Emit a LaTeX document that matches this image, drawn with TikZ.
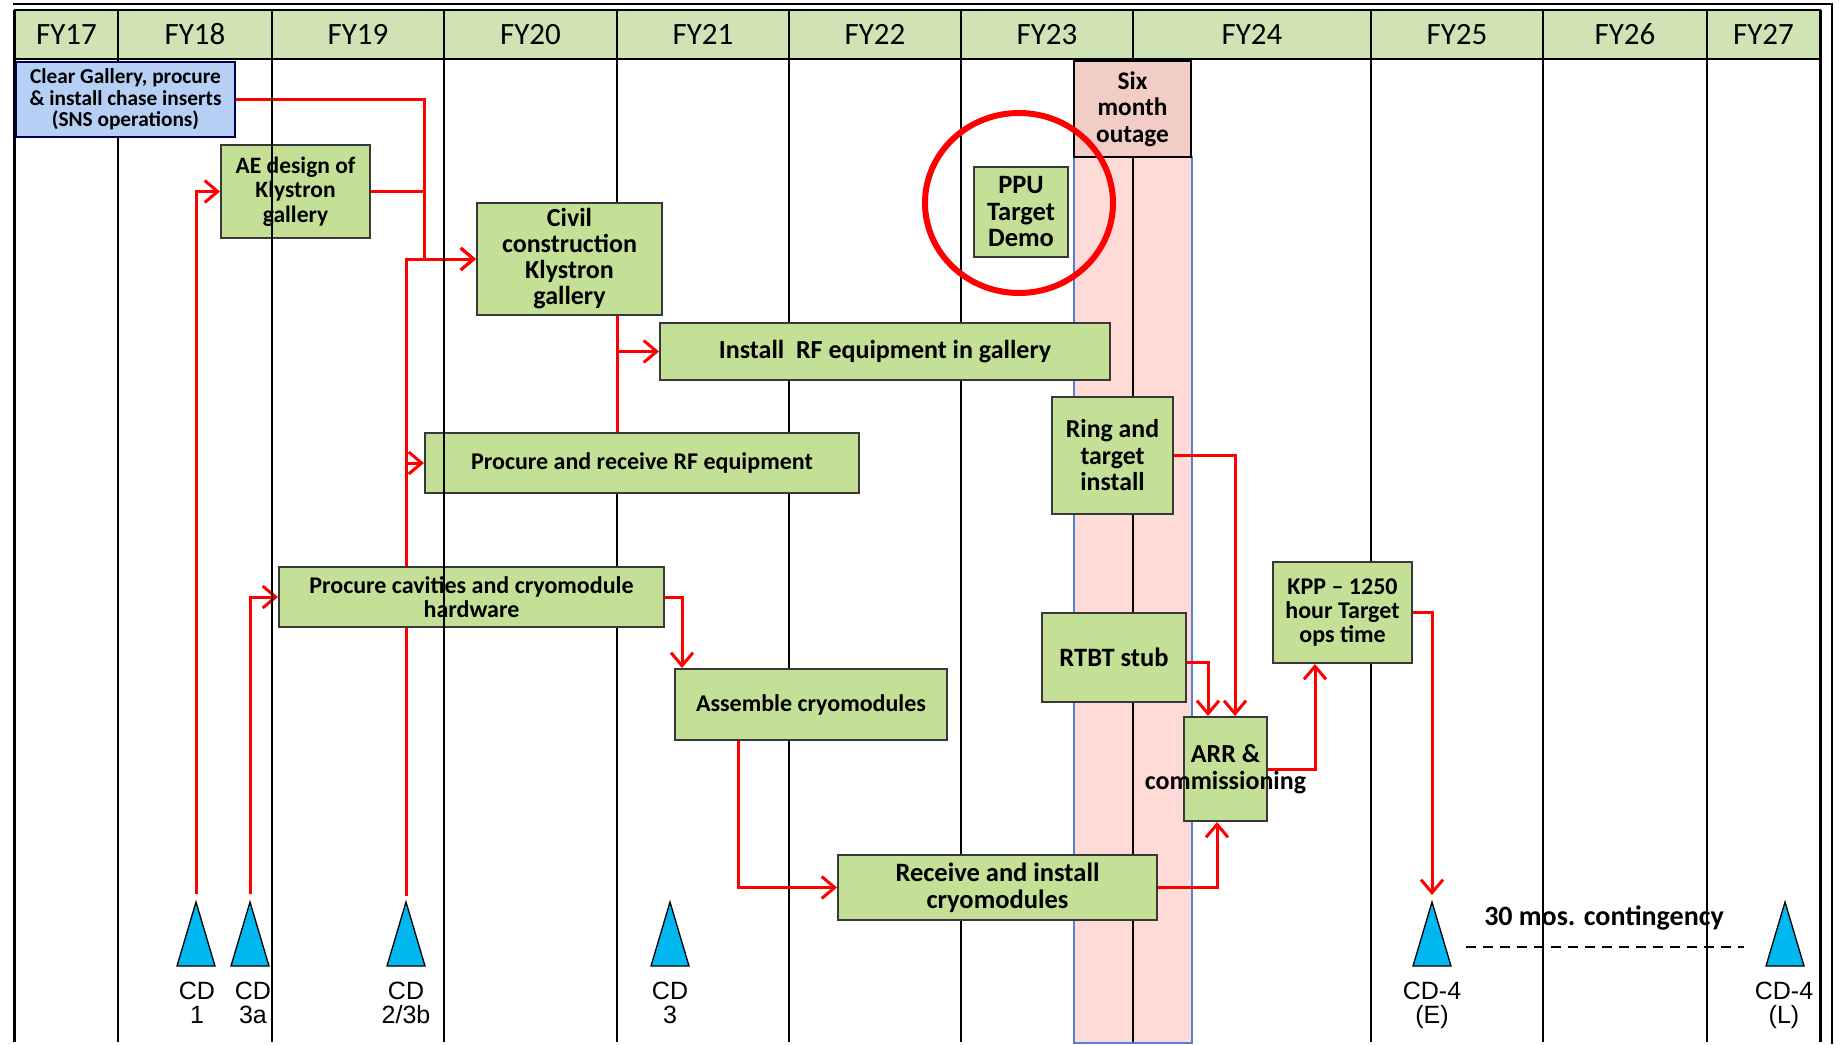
\documentclass[tikz,border=0pt]{standalone}
\usepackage{fontspec}
\setmainfont{Carlito}
\newfontfamily\cdfont{Liberation Sans}
\usetikzlibrary{arrows.meta}
\definecolor{hdrgreen}{RGB}{208,227,181}
\definecolor{boxgreen}{RGB}{195,224,150}
\definecolor{opsblue}{RGB}{181,208,244}
\definecolor{outagepink}{RGB}{255,219,215}
\definecolor{outagehead}{RGB}{242,205,197}
\definecolor{bandblue}{RGB}{84,130,206}
\definecolor{cdcyan}{RGB}{0,183,240}
\definecolor{linkred}{RGB}{255,0,0}
\newcommand{\taskfont}[2]{\fontsize{#1}{#2}\selectfont\bfseries}
\pgfdeclarelayer{back}
\pgfdeclarelayer{mid}
\pgfdeclarelayer{front}
\pgfsetlayers{back,mid,main,front}
\begin{document}
\begin{tikzpicture}[x=1pt,y=-1pt,
  yr/.style={draw=black,line width=2pt,fill=hdrgreen,minimum height=49pt,inner sep=0pt,font=\fontsize{31}{31}\selectfont},
  task/.style={draw=black!78,line width=2pt,fill=boxgreen,inner sep=0pt,align=center},
  link/.style={draw=linkred,line width=3pt},
  flow/.style={link,-{Straight Barb[length=13pt,width=22pt]}},
  cdmark/.style={draw=black,line width=1.3pt,fill=cdcyan,line join=miter},
  cdlbl/.style={font=\cdfont\fontsize{25}{24}\selectfont,align=center,inner sep=0pt}]
\useasboundingbox (0,0) rectangle (1841,1044);

\node[yr,minimum width=103pt] (fy17) at (66.5,34.5) {FY17};
\node[yr,minimum width=154pt] (fy18) at (195,34.5) {FY18};
\node[yr,minimum width=172pt] (fy19) at (358,34.5) {FY19};
\node[yr,minimum width=173pt] (fy20) at (530.5,34.5) {FY20};
\node[yr,minimum width=172pt] (fy21) at (703,34.5) {FY21};
\node[yr,minimum width=172pt] (fy22) at (875,34.5) {FY22};
\node[yr,minimum width=172pt] (fy23) at (1047,34.5) {FY23};
\node[yr,minimum width=238pt] (fy24) at (1252,34.5) {FY24};
\node[yr,minimum width=172pt] (fy25) at (1457,34.5) {FY25};
\node[yr,minimum width=164pt] (fy26) at (1625,34.5) {FY26};
\node[yr,minimum width=113pt] (fy27) at (1763.5,34.5) {FY27};

\node[task,fill=opsblue,draw=black!70!blue,minimum width=219pt,minimum height=75pt,font=\taskfont{21.3}{21.5}] (clear) at (125.5,99.5) {Clear Gallery, procure\\\& install chase inserts\\(SNS operations)};
\node[task,minimum width=149pt,minimum height=93pt,font=\taskfont{23.5}{24.5}] (ae) at (295.5,191.5) {AE design of\\Klystron\\gallery};
\node[task,minimum width=185pt,minimum height=112pt,font=\taskfont{26}{26}] (civil) at (569.5,259) {Civil\\construction\\Klystron\\gallery};
\node[task,minimum width=450pt,minimum height=57pt,font=\taskfont{26}{26}] (instrf) at (885,351.5) {Install~ RF equipment in gallery};
\node[task,minimum width=434pt,minimum height=60pt,font=\taskfont{24}{26}] (rfproc) at (642,463) {Procure and receive RF equipment};
\node[task,minimum width=385pt,minimum height=60pt,font=\taskfont{24}{24}] (cav) at (471.5,597) {Procure cavities and cryomodule\\hardware};
\node[task,minimum width=272pt,minimum height=71pt,font=\taskfont{24}{26}] (asm) at (811,704.5) {Assemble cryomodules};
\node[task,minimum width=319pt,minimum height=65pt,font=\taskfont{26.5}{27}] (recv) at (997.5,887.5) {Receive and install\\cryomodules};
\node[task,minimum width=94pt,minimum height=90pt,font=\taskfont{26.5}{26.5}] (ppu) at (1021,212) {PPU\\Target\\Demo};
\node[task,fill=outagehead,draw=black,minimum width=117pt,minimum height=96pt,font=\taskfont{25.3}{26.5}] (outage) at (1132.5,109) {Six\\month\\outage};
\node[task,minimum width=121pt,minimum height=117pt,font=\taskfont{25.8}{26.5}] (ring) at (1112.5,455.5) {Ring and\\target\\install};
\node[task,minimum width=144pt,minimum height=89pt,font=\taskfont{26.5}{26}] (rtbt) at (1114,657.5) {RTBT stub};
\node[task,minimum width=83pt,minimum height=104pt,font=\taskfont{26}{27}] (arr) at (1225.5,769) {ARR \&\\\makebox[0pt]{commissioning}};
\node[task,minimum width=139pt,minimum height=101pt,font=\taskfont{24}{24}] (kpp) at (1342.5,612.5) {KPP -- 1250\\hour Target\\ops time};

\coordinate (cd1) at (196,894);
\coordinate (cd3a) at (250,894);
\coordinate (cd2) at (406,896);
\coordinate (cd4e) at (1432,895);

\begin{pgfonlayer}{back}
\path[fill=outagepink,draw=bandblue,line width=1.2pt] (1074,157) rectangle (1192,1043);
\path[draw,line width=1.3pt] (13,4) -- (1832,4) -- (1832,1044);
\path[draw,line width=3pt] (14,10) -- (14,1042);
\path[draw,line width=3pt] (1820,10) -- (1820,1042);
\path[draw,line width=2pt] (118,59) -- (118,1042);
\path[draw,line width=2pt] (617,59) -- (617,1042);
\path[draw,line width=2pt] (789,59) -- (789,1042);
\path[draw,line width=2pt] (961,59) -- (961,1042);
\path[draw,line width=2pt] (1133,59) -- (1133,1042);
\path[draw,line width=2pt] (1371,59) -- (1371,1042);
\path[draw,line width=2pt] (1543,59) -- (1543,1042);
\path[draw,line width=2pt] (1707,59) -- (1707,1042);
\end{pgfonlayer}

\begin{pgfonlayer}{mid}
\coordinate (gal) at ([xshift=-52pt]civil.west);
\coordinate (rfj) at ([xshift=-42pt]instrf.west);
\path[flow] (clear.east) -| (gal) -- (civil.west);
\path[link] (ae.east) -- (ae.east -| gal);
\path[flow] (cd1) |- (ae.west);
\path[flow] (cd3a) |- (cav.west);
\path[flow] (cd2) |- (civil.west);
\path[flow] (cd2 |- rfproc.west) -- (rfproc.west);
\path[link] (rfj |- civil.south) -- (rfj |- rfproc.north);
\path[flow] (rfj) -- (instrf.west);
\path[flow] (cav.east) -| ([xshift=8pt]asm.north west);
\path[flow] ([xshift=64pt]asm.south west) |- (recv.west);
\path[flow] (recv.east) -| ([xshift=-8.5pt]arr.south);
\path[flow] (ring.east) -| ([xshift=9.5pt]arr.north);
\path[flow] ([yshift=-5pt]rtbt.east) -| ([xshift=-17.5pt]arr.north);
\path[flow] (arr.east) -| ([xshift=-27.5pt]kpp.south);
\path[flow] (kpp.east) -| (cd4e);
\end{pgfonlayer}

\begin{pgfonlayer}{front}
\path[draw,line width=2.6pt] (272,10) -- (272,1042);
\path[draw,line width=2.6pt] (444,10) -- (444,1042);
\draw[linkred,line width=6pt] (1019,203) ellipse [x radius=94pt,y radius=90pt];
\end{pgfonlayer}

% milestones
\path[cdmark] (196,902) -- (215,966) -- (177,966) -- cycle;
\path[cdmark] (250,902) -- (269,966) -- (231,966) -- cycle;
\path[cdmark] (406,902) -- (425,966) -- (387,966) -- cycle;
\path[cdmark] (670,902) -- (689,966) -- (651,966) -- cycle;
\path[cdmark] (1432,902) -- (1451,966) -- (1413,966) -- cycle;
\path[cdmark] (1785,902) -- (1804,966) -- (1766,966) -- cycle;
\node[cdlbl] (cd1lbl) at (197,1003) {CD\\1};
\node[cdlbl] (cd3albl) at (253,1003) {CD\\3a};
\node[cdlbl] (cd2lbl) at (406,1003) {CD\\2/3b};
\node[cdlbl] (cd3lbl) at (670,1003) {CD\\3};
\node[cdlbl] (cd4elbl) at (1432,1005) {CD-4\\(E)};
\node[cdlbl] (cd4llbl) at (1784,1005) {CD-4\\(L)};

\path[draw,line width=2.2pt,dash pattern=on 10pt off 7pt] (1466,947) -- (1744,947);
\node[font=\taskfont{28}{28}] (cont) at (1604,918) {30 mos. contingency};
\end{tikzpicture}
\end{document}
